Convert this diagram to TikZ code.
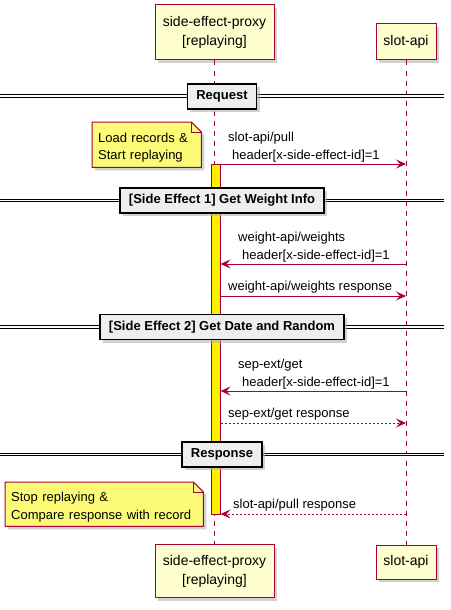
\documentclass[tikz,border=0pt]{standalone}
\usepackage{fontspec}
\setmainfont{Liberation Sans}
\usetikzlibrary{arrows.meta, positioning, shadows, backgrounds}

\definecolor{umlred}{HTML}{A80036}
\definecolor{umlbox}{HTML}{FEFECE}
\definecolor{umlnote}{HTML}{FBFB77}
\definecolor{umlgrey}{HTML}{EEEEEE}

\begin{document}
\begin{tikzpicture}[
        x=1pt, y=-1pt,
        shade/.style={drop shadow={shadow xshift=3pt, shadow yshift=-3pt, fill=black!30, opacity=.6}},
        participant/.style={rectangle, draw=umlred, fill=umlbox, line width=1pt, align=center,
            font=\fontsize{14}{19}\selectfont, inner sep=0pt, shade},
        lifeline/.style={draw=umlred, line width=0.8pt, dash pattern=on 5pt off 5pt},
        actbar/.style={rectangle, draw=umlred, fill=yellow, line width=1pt, minimum width=9pt,
            inner sep=0pt},
        divline/.style={draw=black, line width=1pt, double=white, double distance=1.5pt},
        divbox/.style={rectangle, draw=black, fill=umlgrey, line width=1.5pt, inner xsep=9pt,
            minimum height=25pt, font=\bfseries\fontsize{13}{15}\selectfont, shade},
        msg/.style={draw=umlred, line width=1pt, -{Stealth[length=10pt, width=9pt, inset=4pt]}},
        reply/.style={msg, dash pattern=on 2pt off 2pt},
        lbl/.style={anchor=south west, inner sep=0pt, align=left, font=\fontsize{13}{17.5}\selectfont},
        notetext/.style={anchor=north west, inner xsep=6pt, inner ysep=0pt, align=left,
            text depth=14.3pt, font=\fontsize{13}{17.5}\selectfont},
        notebox/.style={draw=umlred, fill=umlnote, line width=1pt, shade}
    ]
    \useasboundingbox (0,0) rectangle (450,610);

    % participants
    \node[participant, minimum width=119pt, minimum height=55pt] (proxyTop) at (214.5,32.5) {side-effect-proxy\\{[}replaying{]}};
    \node[participant, minimum width=60pt, minimum height=36pt] (slotTop) at (406,42) {slot-api};
    \node[participant, minimum width=119pt, minimum height=53pt] (proxyBot) at (214.5,571) {side-effect-proxy\\{[}replaying{]}};
    \node[participant, minimum width=60pt, minimum height=34pt] (slotBot) at (406,562) {slot-api};

    \draw[lifeline] (proxyTop) -- (proxyBot);
    \draw[lifeline] (slotTop) -- (slotBot);

    \node[actbar, minimum height=350pt] (act) at (215.5,339) {};

    % message rows
    \coordinate (m1) at (0,164);
    \coordinate (m2) at (0,264);
    \coordinate (m3) at (0,296);
    \coordinate (m4) at (0,391);
    \coordinate (m5) at (0,423);
    \coordinate (m6) at (0,514);

    % dividers
    \draw[divline] (0,96) -- (444,96);
    \node[divbox] (request) at (222,96.5) {Request};
    \draw[divline] (0,200.5) -- (444,200.5);
    \node[divbox] (side1) at (222,200.5) {[Side Effect 1] Get Weight Info};
    \draw[divline] (0,327) -- (444,327);
    \node[divbox] (side2) at (222,327) {[Side Effect 2] Get Date and Random};
    \draw[divline] (0,454.5) -- (444,454.5);
    \node[divbox] (response) at (222,454.5) {Response};

    % messages
    \draw[msg] (act.east |- m1) -- (slotTop |- m1);
    \node[lbl] (l1) at (228,162) {slot-api/pull\\\hspace*{4pt}header[x-side-effect-id]=1};

    \draw[msg] (slotTop |- m2) -- (act.east |- m2);
    \node[lbl] (l2) at (238,262) {weight-api/weights\\\hspace*{4pt}header[x-side-effect-id]=1};

    \draw[msg] (act.east |- m3) -- (slotTop |- m3);
    \node[lbl] (l3) at (228,293) {weight-api/weights response};

    \draw[msg] (slotTop |- m4) -- (act.east |- m4);
    \node[lbl] (l4) at (238,389) {sep-ext/get\\\hspace*{4pt}header[x-side-effect-id]=1};

    \draw[reply] (act.east |- m5) -- (slotTop |- m5);
    \node[lbl] (l5) at (228,420) {sep-ext/get response};

    \draw[reply] (slotTop |- m6) -- (act.east |- m6);
    \node[lbl] (l6) at (233,511) {slot-api/pull response};

    % notes
    \node[notetext, text width=97pt, minimum height=45pt] (load) at (92,122) {Load records \&\\Start replaying};
    \node[notetext, text width=186pt, minimum height=44pt] (stop) at (5,482) {Stop replaying \&\\Compare response with record};
    \begin{scope}[on background layer]
        \draw[notebox] (load.north west) -- ([xshift=-10pt]load.north east) -- ([yshift=-10pt]load.north east)
            -- (load.south east) -- (load.south west) -- cycle;
        \draw[umlred, line width=1pt] ([xshift=-10pt]load.north east) |- ([yshift=-10pt]load.north east);
        \draw[notebox] (stop.north west) -- ([xshift=-10pt]stop.north east) -- ([yshift=-10pt]stop.north east)
            -- (stop.south east) -- (stop.south west) -- cycle;
        \draw[umlred, line width=1pt] ([xshift=-10pt]stop.north east) |- ([yshift=-10pt]stop.north east);
    \end{scope}
\end{tikzpicture}
\end{document}
